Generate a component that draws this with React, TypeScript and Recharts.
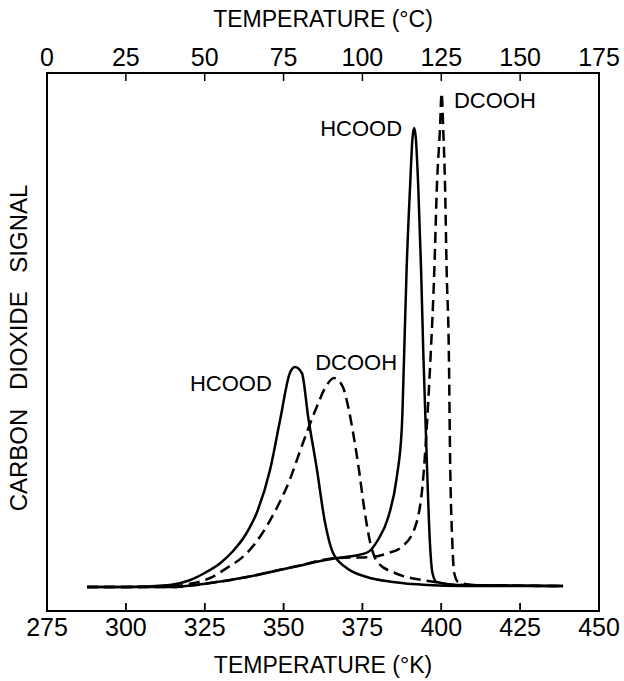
import * as R from 'recharts';

const { LineChart, Line, XAxis, YAxis, ReferenceDot } = R;

const FONT = '"Liberation Sans", Arial, Helvetica, sans-serif';

const CHART_W = 624;
const CHART_H = 681;
const MARGIN = { top: 33, right: 25, bottom: 30, left: 47 };
const AXIS_H = 40;

const kelvinTicks = [275, 300, 325, 350, 375, 400, 425, 450];
const celsiusTicks = [0, 25, 50, 75, 100, 125, 150, 175];
// the figure lines 0 °C up with the 275 K tick, so the top scale is offset by 275
const celsiusZeroK = 275;
const kelvinDomain = [275, 450];
const signalDomain = [-4.8, 102.8];

// low-temperature HCOOD peak (solid)
const hcoodLowK = [287.7, 300, 314, 320, 325, 330, 334, 338, 341.6, 345.7, 348.9, 352, 353.6, 355.8, 357.8, 360.6, 363, 365.7, 370, 376.4, 384.7, 395.5, 407, 438.6];
const hcoodLowS = [0, 0, 0.4, 1.3, 2.8, 4.8, 7.2, 10.5, 15, 23.4, 33.4, 42.8, 44, 42.8, 34, 23.4, 13.4, 6.8, 3.8, 2.0, 1.0, 0.4, 0.2, 0.2];

// low-temperature DCOOH peak (dashed)
const dcoohLowK = [287.7, 300, 314, 320, 326.7, 332, 338.4, 343, 348, 352, 355, 358, 360.5, 363.7, 366, 368.8, 370.5, 372, 374, 375.5, 377.5, 380, 385.3, 393.8, 398, 405, 438.6];
const dcoohLowS = [0, 0, 0.1, 0.6, 1.8, 3.8, 6.8, 10.5, 16, 21.5, 26.8, 32, 36, 40.4, 41.8, 40, 36, 31, 23, 16, 8.8, 4.8, 2.8, 1.4, 1.0, 0.4, 0.2];

// high-temperature HCOOD peak (solid)
const hcoodHighK = [287.7, 300, 314, 326.7, 338.4, 353, 367, 372, 376.8, 380, 383.2, 385.9, 387.5, 388.2, 389, 390.1, 390.9, 391.4, 391.9, 392.7, 393.6, 394.3, 395.4, 396.4, 397.2, 398.5, 405, 438.6];
const hcoodHighS = [0, 0, 0, 0.8, 2, 4, 5.8, 6.2, 7, 9.5, 14, 22, 32, 46, 63.4, 80, 90, 91.8, 90, 80, 63.4, 46.8, 25.4, 8.8, 2.8, 1.0, 0.4, 0.2];

// high-temperature DCOOH peak (dashed)
const dcoohHighK = [287.7, 300, 314, 326.7, 338.4, 353, 367, 377.9, 383.2, 387.4, 391.7, 394.3, 395.4, 396.6, 397.8, 398.6, 399.6, 400.1, 400.6, 401.2, 401.7, 402.4, 402.8, 403.5, 404.1, 405.4, 410, 438.6];
const dcoohHighS = [0, 0, 0, 0.8, 2, 4, 5.8, 6, 6.8, 8, 12, 22, 32, 46, 63.4, 80, 91.8, 98.8, 91.8, 80, 63.4, 46.8, 25.4, 8.8, 2.8, 1.0, 0.4, 0.2];

const toPoints = (k: number[], s: number[]) => k.map((x, i) => ({ k: x, s: s[i] }));

const [xLo, xHi] = kelvinDomain;
const [yLo, yHi] = signalDomain;

const tickStyle = { fontSize: 25, fill: '#000', fontFamily: FONT };
const curveLabel = { fontSize: 22, fill: '#000', fontFamily: FONT };

// box round the plot with inward ticks on top and bottom
function FrameAndTicks() {
  const usePlotArea = (R as any).usePlotArea;
  const hooked = usePlotArea ? usePlotArea() : undefined;
  const area = hooked ?? {
    x: MARGIN.left,
    y: MARGIN.top + AXIS_H,
    width: CHART_W - MARGIN.left - MARGIN.right,
    height: CHART_H - MARGIN.top - MARGIN.bottom - 2 * AXIS_H,
  };
  const { x, y, width, height } = area;
  const sx = (k: number) => x + ((k - xLo) / (xHi - xLo)) * width;
  return (
    <g className="frame">
      <rect x={x} y={y} width={width} height={height} fill="none" stroke="#000" strokeWidth={2} />
      {kelvinTicks.map(t => (
        <line key={`b${t}`} x1={sx(t)} x2={sx(t)} y1={y + height} y2={y + height - 8} stroke="#000" strokeWidth={1.5} />
      ))}
      {celsiusTicks.map(c => (
        <line key={`t${c}`} x1={sx(c + celsiusZeroK)} x2={sx(c + celsiusZeroK)} y1={y} y2={y + 8} stroke="#000" strokeWidth={1.5} />
      ))}
    </g>
  );
}

const YTitle = ({ viewBox }: { viewBox?: { x: number; y: number; width: number; height: number } }) => {
  if (!viewBox) return null;
  const cx = viewBox.x + viewBox.width / 2 - 29;
  const cy = viewBox.y + viewBox.height / 2 + 6;
  return (
    <text
      x={cx}
      y={cy}
      transform={`rotate(-90 ${cx} ${cy})`}
      textAnchor="middle"
      dominantBaseline="central"
      style={{ fontSize: 24, fontFamily: FONT, fill: '#000', wordSpacing: '12px' }}
    >
      CARBON DIOXIDE SIGNAL
    </text>
  );
};

export default function App() {
  return (
    <div style={{ position: 'absolute', left: 0, top: 0, width: CHART_W, height: CHART_H, background: '#fff' }}>
      <LineChart width={CHART_W} height={CHART_H} margin={MARGIN}>
        <XAxis
          xAxisId="k"
          type="number"
          dataKey="k"
          domain={kelvinDomain}
          ticks={kelvinTicks}
          interval={0}
          height={AXIS_H}
          tickSize={-8}
          tickMargin={15}
          tick={tickStyle}
          axisLine={{ stroke: '#000', strokeWidth: 2 }}
          tickLine={{ stroke: '#000', strokeWidth: 1.5 }}
          label={{ value: 'TEMPERATURE (°K)', position: 'bottom', offset: 6, style: { fontSize: 23, fontFamily: FONT, fill: '#000' } }}
        />
        <XAxis
          xAxisId="c"
          orientation="top"
          type="number"
          domain={[0, 175]}
          ticks={celsiusTicks}
          interval={0}
          height={AXIS_H}
          tick={tickStyle}
          axisLine={{ stroke: '#000', strokeWidth: 2 }}
          tickLine={false}
          label={{ value: 'TEMPERATURE (°C)', position: 'top', offset: 6, style: { fontSize: 23, fontFamily: FONT, fill: '#000' } }}
        />
        <YAxis yAxisId="l" type="number" domain={signalDomain} width={0} tick={false} tickLine={false} axisLine={{ stroke: '#000', strokeWidth: 2 }} />
        <FrameAndTicks />
        {celsiusTicks.map(c => (
          <ReferenceDot
            key={`cl${c}`}
            xAxisId="k"
            yAxisId="l"
            x={c + celsiusZeroK}
            y={yHi}
            r={1}
            fill="none"
            stroke="none"
            label={{ value: String(c), position: 'top', offset: 6, ...tickStyle }}
          />
        ))}
        <ReferenceDot xAxisId="k" yAxisId="l" x={xLo} y={(yLo + yHi) / 2} r={1} fill="none" stroke="none" label={<YTitle />} />
        <Line xAxisId="k" yAxisId="l" data={toPoints(hcoodLowK, hcoodLowS)} dataKey="s" type="monotone" stroke="#000" strokeWidth={2.5} dot={false} isAnimationActive={false} />
        <Line xAxisId="k" yAxisId="l" data={toPoints(dcoohLowK, dcoohLowS)} dataKey="s" type="monotone" stroke="#000" strokeWidth={2.5} strokeDasharray="11 6" dot={false} isAnimationActive={false} />
        <Line xAxisId="k" yAxisId="l" data={toPoints(hcoodHighK, hcoodHighS)} dataKey="s" type="monotone" stroke="#000" strokeWidth={2.5} dot={false} isAnimationActive={false} />
        <Line xAxisId="k" yAxisId="l" data={toPoints(dcoohHighK, dcoohHighS)} dataKey="s" type="monotone" stroke="#000" strokeWidth={2.5} strokeDasharray="11 6" dot={false} isAnimationActive={false} />
        <ReferenceDot xAxisId="k" yAxisId="l" x={333.3} y={40.8} r={1} fill="none" stroke="none" label={{ value: 'HCOOD', position: 'center', ...curveLabel }} />
        <ReferenceDot xAxisId="k" yAxisId="l" x={373} y={45} r={1} fill="none" stroke="none" label={{ value: 'DCOOH', position: 'center', ...curveLabel }} />
        <ReferenceDot xAxisId="k" yAxisId="l" x={374.6} y={91.8} r={1} fill="none" stroke="none" label={{ value: 'HCOOD', position: 'center', ...curveLabel }} />
        <ReferenceDot xAxisId="k" yAxisId="l" x={417} y={97.4} r={1} fill="none" stroke="none" label={{ value: 'DCOOH', position: 'center', ...curveLabel }} />
      </LineChart>
    </div>
  );
}
